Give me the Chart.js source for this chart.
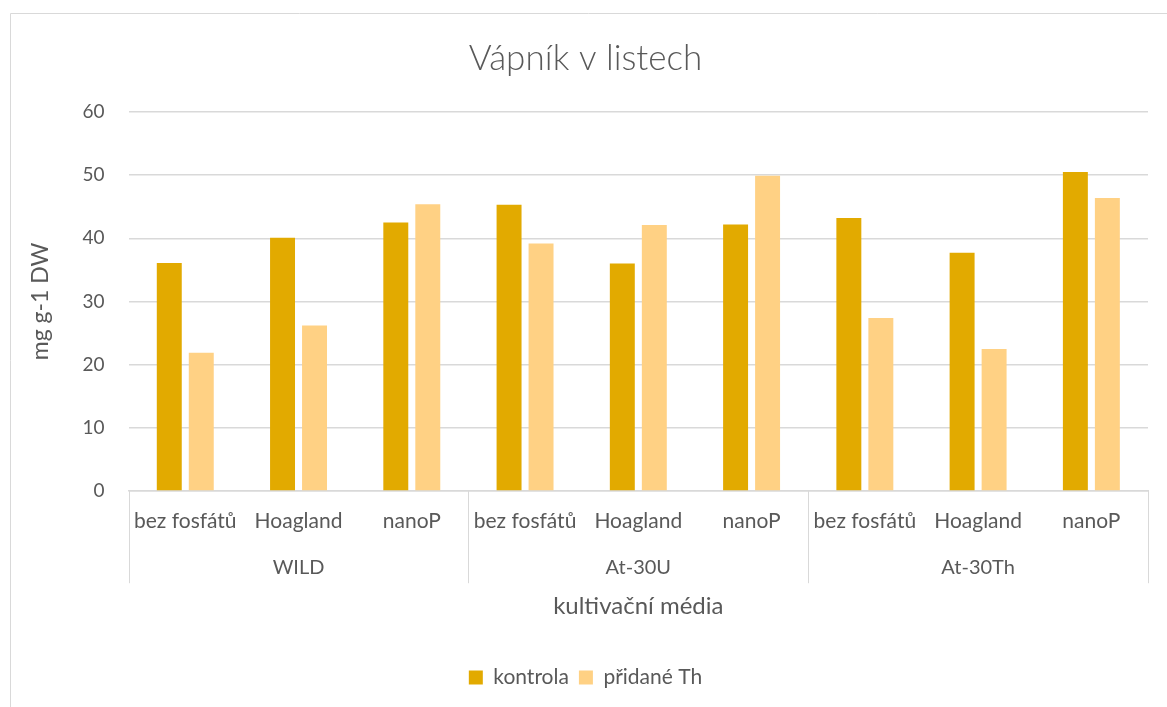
<!DOCTYPE html>
<html><head><meta charset="utf-8">
<script src="https://cdn.jsdelivr.net/npm/chart.js@4/dist/chart.umd.min.js"></script>
<style>html,body{margin:0;padding:0;background:#fff}#wrap{width:1167px;height:707px}</style>
</head><body><div id="wrap"><canvas id="c" width="1167" height="707"></canvas></div>
<script>
const media = ['bez fosfátů','Hoagland','nanoP','bez fosfátů','Hoagland','nanoP','bez fosfátů','Hoagland','nanoP'];
const groups = ['WILD','At-30U','At-30Th'];
const kontrola = [36.1, 40.1, 42.5, 45.3, 36.0, 42.2, 43.2, 37.7, 50.5];
const pridaneTh = [21.9, 26.2, 45.4, 39.2, 42.1, 49.9, 27.4, 22.5, 46.4];
const yTicks = [0,10,20,30,40,50,60];

const TXT = '#595959';
const FONT = 'Lato, "Open Sans", sans-serif';

const framePlugin = {
  id:'frame',
  beforeDraw(chart){
    const c = chart.ctx;
    c.save();
    c.strokeStyle = '#d9d9d9'; c.lineWidth = 1;
    c.beginPath();
    c.moveTo(10.5, 707); c.lineTo(10.5, 13.5); c.lineTo(1167, 13.5);
    c.stroke();
    c.restore();
  },
  afterDraw(chart){
    const x = chart.scales.x, g = chart.scales.x2;
    const c = chart.ctx;
    c.save();
    c.strokeStyle = '#d9d9d9'; c.lineWidth = 1;
    const n = groups.length, per = media.length / n;
    const yEnd = g.top + 3 + 12 + 16;
    for (let i = 0; i <= n; i++){
      const px = Math.round(x.left + (x.right - x.left) * (i * per) / media.length) + 0.5;
      c.beginPath(); c.moveTo(px, x.top); c.lineTo(px, yEnd); c.stroke();
    }
    c.restore();
  }
};

new Chart(document.getElementById('c'), {
  type:'bar',
  data:{
    labels: media,
    datasets:[
      {label:'kontrola', data:kontrola, backgroundColor:'#E2AA00', categoryPercentage:0.565, barPercentage:0.78},
      {label:'přidané Th', data:pridaneTh, backgroundColor:'#FFD184', categoryPercentage:0.565, barPercentage:0.78}
    ]
  },
  options:{
    responsive:false, animation:false,
    layout:{padding:{left:23, right:19, top:28, bottom:9}},
    plugins:{
      title:{display:true, text:'Vápník v listech', color:TXT, font:{family:FONT, size:35, weight:'300'}, padding:{top:10, bottom:32}},
      legend:{position:'bottom', labels:{color:TXT, font:{family:FONT, size:21}, boxWidth:14, boxHeight:14, padding:10}},
      tooltip:{enabled:false}
    },
    scales:{
      y:{min:0, max:60, afterBuildTicks(s){ s.ticks = yTicks.map(v=>({value:v})); },
         ticks:{color:TXT, font:{family:FONT, size:19}, padding:24},
         grid:{color:'#d9d9d9', lineWidth:1.5, drawTicks:false},
         border:{display:false},
         title:{display:true, text:'mg g-1 DW', color:TXT, font:{family:FONT, size:23}, padding:{bottom:4}}},
      x:{position:'bottom', ticks:{color:TXT, font:{family:FONT, size:21}, padding:18, maxRotation:0, autoSkip:false},
         grid:{display:false, drawTicks:false}, border:{display:true, color:'#d9d9d9', width:1.5}},
      x2:{type:'category', position:'bottom', labels:groups, offset:true,
         ticks:{color:TXT, font:{family:FONT, size:20}, padding:3, maxRotation:0},
         grid:{display:false, drawTicks:false}, border:{display:false},
         title:{display:true, text:'kultivační média', color:TXT, font:{family:FONT, size:24}, padding:{top:10, bottom:36}}}
    }
  },
  plugins:[framePlugin]
});
</script></body></html>
